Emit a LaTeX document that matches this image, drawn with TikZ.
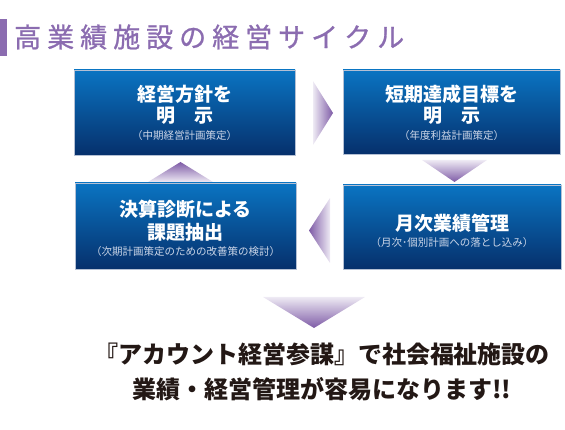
\documentclass[tikz,border=0pt]{standalone}
\usepackage{fontspec}
\setmainfont{Noto Sans CJK JP}
\newfontfamily\ttlfont{Noto Sans CJK JP}[FakeBold=1]
\definecolor{ttl}{HTML}{8B6CB0}
\definecolor{boxtop}{HTML}{0A74C2}
\definecolor{boxmid}{HTML}{0A5CA6}
\definecolor{boxbot}{HTML}{06306C}
\definecolor{boxline}{HTML}{B4C0D4}
\definecolor{arrlight}{HTML}{EEEAF4}
\definecolor{arrdark}{HTML}{7E5BA6}
\definecolor{subtxt}{HTML}{CCD6E8}
\definecolor{maintxt}{HTML}{231815}
\newcommand\tch[1]{\makebox[33pt]{#1}}
\tikzset{
  box/.style={rectangle, draw=boxline, line width=0.8pt, top color=boxtop, middle color=boxmid, bottom color=boxbot, inner sep=0pt},
  hd/.style={inner sep=0pt, text=white, font=\bfseries\fontsize{19}{19}\selectfont},
  sb/.style={inner sep=0pt, text=subtxt, font=\fontsize{10.5}{10.5}\selectfont},
}
\begin{document}
\begin{tikzpicture}[x=1pt,y=-1pt]
\useasboundingbox (0,0) rectangle (565,430);
% title
\fill[ttl] (0,19) rectangle (7,56);
\node[anchor=west, inner sep=0pt, text=ttl, font=\ttlfont\fontsize{27}{27}\selectfont] (title) at (11,37)
  {\tch{高}\tch{業}\tch{績}\tch{施}\tch{設}\tch{の}\tch{経}\tch{営}\tch{サ}\tch{イ}\tch{ク}\tch{ル}};
% boxes
\node[box, minimum width=221pt, minimum height=85pt] (b1) at (184.5,112.5) {};
\node[box, minimum width=217pt, minimum height=84pt] (b2) at (451.5,112) {};
\node[box, minimum width=221pt, minimum height=86pt] (b3) at (185.5,226) {};
\node[box, minimum width=218pt, minimum height=84pt] (b4) at (452,227) {};
% box texts
\node[hd] (b1a) at (184.5,94) {経営方針を};
\node[hd] (b1b) at (184.5,116) {明　示};
\node[sb] (b1c) at (184.5,136) {（中期経営計画策定）};
\node[hd] (b2a) at (451.5,94) {短期達成目標を};
\node[hd] (b2b) at (451.5,116) {明　示};
\node[sb] (b2c) at (451.5,136) {（年度利益計画策定）};
\node[hd] (b3a) at (185.5,209) {決算診断による};
\node[hd] (b3b) at (185.5,232) {課題抽出};
\node[sb] (b3c) at (185.5,252) {（次期計画策定のための改善策の検討）};
\node[hd] (b4a) at (452,223) {月次業績管理};
\node[sb] (b4c) at (452,243) {（月次･個別計画への落とし込み）};
% arrows
\path[left color=arrlight, right color=arrdark] (313,81) -- (333,113) -- (313,145) -- cycle;
\path[top color=arrlight, bottom color=arrdark] (422,160) -- (487,160) -- (454.5,182) -- cycle;
\path[left color=arrdark, right color=arrlight] (330,198) -- (330,263) -- (309,230.5) -- cycle;
\path[top color=arrdark, bottom color=arrlight] (148,182) -- (213,182) -- (180.5,162) -- cycle;
\path[top color=arrlight, bottom color=arrdark] (263,297) -- (365,297) -- (314,328) -- cycle;
% message
\node[align=center, inner sep=0pt, text=maintxt, font=\bfseries\fontsize{24}{35}\selectfont] (msg) at (322,371.5)
  {『アカウント経営参謀』で社会福祉施設の\\業績・経営管理が容易になります!!};
\end{tikzpicture}
\end{document}
